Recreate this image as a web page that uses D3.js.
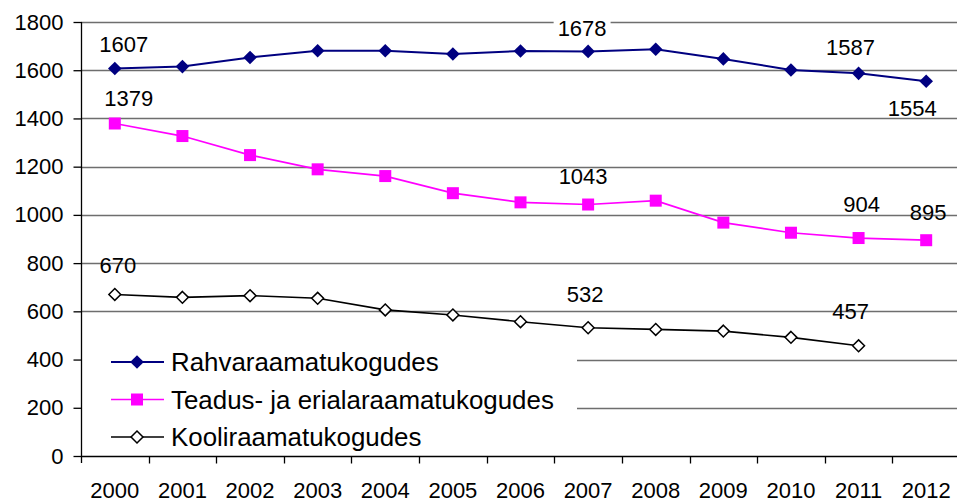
<!DOCTYPE html>
<html>
<head>
<meta charset="utf-8">
<script src="https://cdn.jsdelivr.net/npm/d3@7"></script>
<style>
  body { margin: 0; background: #fff; }
  svg { display: block; font-family: "Liberation Sans", Arial, sans-serif; }
</style>
</head>
<body>
<div id="chart"></div>
<script>
var years = ["2000","2001","2002","2003","2004","2005","2006","2007","2008","2009","2010","2011","2012"];
var rahva = [1607, 1615, 1653, 1681, 1681, 1667, 1680, 1678, 1687, 1647, 1601, 1587, 1554];
var teadus = [1379, 1327, 1248, 1189, 1161, 1090, 1052, 1043, 1059, 968, 926, 904, 895];
var kooli = [670, 658, 665, 654, 606, 585, 557, 532, 525, 518, 492, 457, null];
var yTicks = [0, 200, 400, 600, 800, 1000, 1200, 1400, 1600, 1800];
var seriesNames = ["Rahvaraamatukogudes", "Teadus- ja erialaraamatukogudes", "Kooliraamatukogudes"];
// value labels: series index, year index, text offset from the point
var labels = [
  {s: 0, i: 0, dx: 9, dy: -17}, {s: 0, i: 7, dx: -6, dy: -15, bg: true},
  {s: 0, i: 11, dx: -8, dy: -18}, {s: 0, i: 12, dx: -14, dy: 35},
  {s: 1, i: 0, dx: 14, dy: -18}, {s: 1, i: 7, dx: -5, dy: -21},
  {s: 1, i: 11, dx: 3, dy: -26}, {s: 1, i: 12, dx: 2, dy: -20},
  {s: 2, i: 0, dx: 3, dy: -21}, {s: 2, i: 7, dx: -3, dy: -26},
  {s: 2, i: 11, dx: -8, dy: -27}
];

function start(){
    var width = 957, height = 501;
    var margin = {top: 22, right: -3, bottom: 45, left: 81};
    var fs = "22px";
    var legFs = "25.9px";

    var svg = d3.select("#chart").append("svg")
        .attr("width", width)
        .attr("height", height);

    var data = [rahva, teadus, kooli];
    var colors = ["#000080", "#ff00ff", "#000000"];

    var xScale = d3.scaleBand()
        .domain(years)
        .range([margin.left, width - margin.right]);
    var yScale = d3.scaleLinear()
        .domain([0, 1800])
        .range([height - margin.bottom, margin.top]);
    var cx = function(i){ return xScale(years[i]) + xScale.bandwidth() / 2; };

    // gridlines
    svg.append("g")
        .selectAll("line")
        .data(yTicks.filter(function(d){ return d > 0; }))
        .enter()
        .append("line")
        .attr("x1", margin.left)
        .attr("x2", width)
        .attr("y1", function(d){ return Math.round(yScale(d)) + 0.5; })
        .attr("y2", function(d){ return Math.round(yScale(d)) + 0.5; })
        .attr("stroke", "#6e6e6e")
        .attr("stroke-width", 1.3);

    // lines
    var line = d3.line()
        .defined(function(d){ return d != null; })
        .x(function(d, i){ return cx(i); })
        .y(function(d){ return yScale(d); });

    var widths = [2, 1.7, 1.6];
    data.forEach(function(vals, s){
        svg.append("path")
            .datum(vals)
            .attr("fill", "none")
            .attr("stroke", colors[s])
            .attr("stroke-width", widths[s])
            .attr("d", line);
    });

    function marker(g, s, x, y){
        if (s == 0){
            g.append("path")
                .attr("d", d3.symbol().type(d3.symbolDiamond2).size(118)())
                .attr("transform", "translate(" + x + "," + y + ")")
                .attr("fill", "#000080");
        } else if (s == 1){
            g.append("rect")
                .attr("x", x - 6).attr("y", y - 6)
                .attr("width", 12).attr("height", 12)
                .attr("fill", "#ff00ff");
        } else {
            g.append("path")
                .attr("d", d3.symbol().type(d3.symbolDiamond2).size(90)())
                .attr("transform", "translate(" + x + "," + y + ")")
                .attr("fill", "#fff")
                .attr("stroke", "#000")
                .attr("stroke-width", 1.5);
        }
    }

    var markers = svg.append("g");
    data.forEach(function(vals, s){
        vals.forEach(function(v, i){
            if (v != null) marker(markers, s, cx(i), yScale(v));
        });
    });

    // legend box hides the gridlines behind it
    var leg = svg.append("g");
    leg.append("rect")
        .attr("x", margin.left + 1)
        .attr("y", 336)
        .attr("width", 495)
        .attr("height", 116)
        .attr("fill", "#fff");
    seriesNames.forEach(function(name, s){
        var ly = 362 + s * 37.5;
        leg.append("line")
            .attr("x1", 111).attr("x2", 164)
            .attr("y1", ly).attr("y2", ly)
            .attr("stroke", colors[s])
            .attr("stroke-width", widths[s]);
        marker(leg, s, 137, ly);
        leg.append("text")
            .attr("x", 171)
            .attr("y", ly + 9)
            .style("font-size", legFs)
            .text(name);
    });

    // axes
    var yAxis = svg.append("g")
        .attr("transform", "translate(" + (margin.left + 0.5) + ",0)")
        .call(d3.axisLeft(yScale).tickValues(yTicks).tickSize(8).tickPadding(10).tickFormat(d3.format("d")));
    yAxis.select(".domain").remove();
    yAxis.append("line")
        .attr("y1", margin.top).attr("y2", height - margin.bottom + 7)
        .attr("stroke", "#000").attr("stroke-width", 1.3);
    yAxis.selectAll("line").attr("stroke-width", 1.3);
    yAxis.selectAll("text").style("font-size", fs).attr("fill", "#000");
    yAxis.attr("font-family", null);

    var xAxis = svg.append("g")
        .attr("transform", "translate(0," + (Math.round(yScale(0)) + 0.5) + ")");
    xAxis.append("line")
        .attr("x1", margin.left).attr("x2", width)
        .attr("stroke", "#000").attr("stroke-width", 1.3);
    xAxis.selectAll(".tk")
        .data(years.slice(1))
        .enter()
        .append("line")
        .attr("class", "tk")
        .attr("x1", function(d){ return Math.round(xScale(d)) + 0.5; })
        .attr("x2", function(d){ return Math.round(xScale(d)) + 0.5; })
        .attr("y1", 0).attr("y2", 7)
        .attr("stroke", "#000").attr("stroke-width", 1.3);
    xAxis.selectAll("text")
        .data(years)
        .enter()
        .append("text")
        .attr("x", function(d, i){ return cx(i); })
        .attr("y", 41)
        .attr("text-anchor", "middle")
        .style("font-size", fs)
        .text(function(d){ return d; });

    // value labels
    var lg = svg.append("g");
    labels.forEach(function(l){
        var v = data[l.s][l.i];
        var t = lg.append("text")
            .attr("x", cx(l.i) + l.dx)
            .attr("y", yScale(v) + l.dy)
            .attr("text-anchor", "middle")
            .style("font-size", fs)
            .text(v);
        if (l.bg){
            var b = t.node().getBBox();
            lg.insert("rect", function(){ return t.node(); })
                .attr("x", b.x - 4).attr("y", b.y)
                .attr("width", b.width + 8).attr("height", b.height)
                .attr("fill", "#fff");
        }
    });
}

start();
</script>
</body>
</html>
